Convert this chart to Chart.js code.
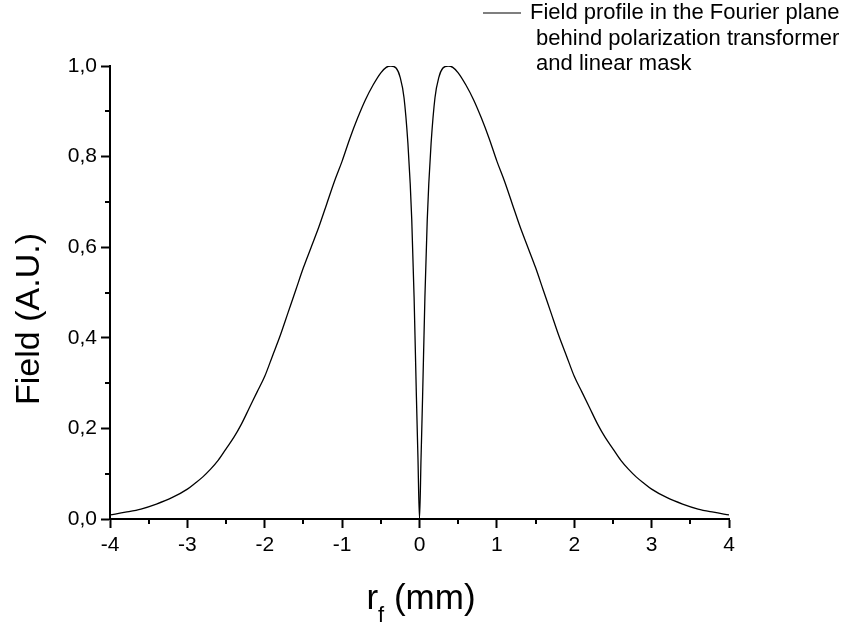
<!DOCTYPE html>
<html>
<head>
<meta charset="utf-8">
<script src="https://cdn.jsdelivr.net/npm/chart.js@4.4.1/dist/chart.umd.min.js"></script>
<style>
  html, body { margin: 0; padding: 0; background: #fff; }
  #wrap { width: 848px; height: 626px; }
</style>
</head>
<body>
<div id="wrap"><canvas id="fieldChart" width="848" height="626"></canvas></div>
<script>
// radial coordinate in the Fourier plane, mm
const rF = [-4, -3.8, -3.6, -3.4, -3.2, -3, -2.9, -2.8, -2.7, -2.6, -2.5, -2.4, -2.3, -2.2, -2.1,
    -2, -1.9, -1.8, -1.7, -1.6, -1.5, -1.4, -1.3, -1.2, -1.1, -1, -0.9, -0.8, -0.7, -0.6,
    -0.5, -0.43, -0.37, -0.3, -0.25, -0.2, -0.15, -0.12, -0.1, -0.07, -0.04, -0.02, 0,
    0.02, 0.04, 0.07, 0.1, 0.12, 0.15, 0.2, 0.25, 0.3, 0.37, 0.43, 0.5,
    0.6, 0.7, 0.8, 0.9, 1, 1.1, 1.2, 1.3, 1.4, 1.5, 1.6, 1.7, 1.8, 1.9,
    2, 2.1, 2.2, 2.3, 2.4, 2.5, 2.6, 2.7, 2.8, 2.9, 3, 3.2, 3.4, 3.6, 3.8, 4];
// field amplitude, arbitrary units
const field = [0.009, 0.015, 0.022, 0.033, 0.047, 0.066, 0.079, 0.093, 0.11, 0.13, 0.155, 0.18, 0.21, 0.245, 0.28,
    0.315, 0.36, 0.405, 0.455, 0.505, 0.555, 0.6, 0.645, 0.695, 0.745, 0.79, 0.84, 0.885, 0.925, 0.958,
    0.985, 0.997, 1.0, 0.995, 0.975, 0.93, 0.83, 0.74, 0.66, 0.49, 0.27, 0.135, 0,
    0.135, 0.27, 0.49, 0.66, 0.74, 0.83, 0.93, 0.975, 0.995, 1.0, 0.997, 0.985,
    0.958, 0.925, 0.885, 0.84, 0.79, 0.745, 0.695, 0.645, 0.6, 0.555, 0.505, 0.455, 0.405, 0.36,
    0.315, 0.28, 0.245, 0.21, 0.18, 0.155, 0.13, 0.11, 0.093, 0.079, 0.066, 0.047, 0.033, 0.022, 0.015, 0.009];

const xTicks = [-4, -3, -2, -1, 0, 1, 2, 3, 4];
const yTicks = [0, 0.2, 0.4, 0.6, 0.8, 1.0];
const xMinor = [-3.5, -2.5, -1.5, -0.5, 0.5, 1.5, 2.5, 3.5];
const yMinor = [0.1, 0.3, 0.5, 0.7, 0.9];

const legendLines = ['Field profile in the Fourier plane', ' behind polarization transformer', ' and linear mask'];

const FONT = "'Liberation Sans', Arial, Helvetica, sans-serif";

// minor ticks, axis titles and the legend box
const decorations = {
    id: 'decorations',
    afterDraw(chart) {
        const ctx = chart.ctx;
        const xs = chart.scales.x;
        const ys = chart.scales.y;
        const area = chart.chartArea;

        ctx.save();
        ctx.strokeStyle = '#000';
        ctx.lineWidth = 2;
        ctx.beginPath();
        xMinor.forEach(v => {
            const px = Math.round(xs.getPixelForValue(v));
            ctx.moveTo(px, area.bottom);
            ctx.lineTo(px, area.bottom + 5);
        });
        yMinor.forEach(v => {
            const py = Math.round(ys.getPixelForValue(v));
            ctx.moveTo(area.left, py);
            ctx.lineTo(area.left - 5, py);
        });
        ctx.stroke();

        ctx.fillStyle = '#000';

        // y title
        ctx.save();
        ctx.translate(30, 319);
        ctx.rotate(-Math.PI / 2);
        ctx.font = '34px ' + FONT;
        ctx.textAlign = 'center';
        ctx.textBaseline = 'middle';
        ctx.fillText('Field (A.U.)', 0, 0);
        ctx.restore();

        // x title with subscript
        ctx.textBaseline = 'alphabetic';
        ctx.textAlign = 'left';
        const big = '35px ' + FONT;
        const small = '22px ' + FONT;
        ctx.font = big;
        const wR = ctx.measureText('r').width;
        const wRest = ctx.measureText(' (mm)').width;
        ctx.font = small;
        const wF = ctx.measureText('f').width;
        let x0 = 421 - (wR + wF + wRest) / 2;
        const base = 609;
        ctx.font = big;
        ctx.fillText('r', x0, base);
        ctx.font = small;
        ctx.fillText('f', x0 + wR, base + 13);
        ctx.font = big;
        ctx.fillText(' (mm)', x0 + wR + wF, base);

        // legend
        ctx.lineWidth = 1.2;
        ctx.beginPath();
        ctx.moveTo(483, 13);
        ctx.lineTo(521, 13);
        ctx.stroke();
        ctx.font = '22px ' + FONT;
        ctx.textBaseline = 'middle';
        legendLines.forEach((t, i) => {
            ctx.fillText(t, 530, 13 + i * 25.5);
        });
        ctx.restore();
    }
};

const points = rF.map((r, i) => ({ x: r, y: field[i] }));

new Chart(document.getElementById('fieldChart'), {
    type: 'line',
    data: {
        datasets: [{
            label: 'Field profile in the Fourier plane behind polarization transformer and linear mask',
            data: points,
            borderColor: '#000',
            borderWidth: 1.3,
            pointRadius: 0,
            fill: false,
            cubicInterpolationMode: 'monotone'
        }]
    },
    options: {
        responsive: false,
        animation: false,
        layout: { padding: { left: 0, top: 66, right: 119, bottom: 0 } },
        plugins: {
            legend: { display: false },
            tooltip: { enabled: false }
        },
        scales: {
            x: {
                type: 'linear',
                min: -4,
                max: 4,
                afterFit(scale) { scale.height = 107; },
                afterBuildTicks(scale) { scale.ticks = xTicks.map(v => ({ value: v })); },
                border: { color: '#000', width: 2 },
                grid: { drawOnChartArea: false, drawTicks: true, tickLength: 9, tickWidth: 2, color: '#000' },
                ticks: {
                    color: '#000',
                    padding: 5,
                    font: { family: FONT, size: 21 },
                    maxRotation: 0,
                    callback: v => String(v)
                }
            },
            y: {
                min: 0,
                max: 1,
                afterFit(scale) { scale.width = 110; },
                afterBuildTicks(scale) { scale.ticks = yTicks.map(v => ({ value: v })); },
                border: { color: '#000', width: 2 },
                grid: { drawOnChartArea: false, drawTicks: true, tickLength: 9, tickWidth: 2, color: '#000' },
                ticks: {
                    color: '#000',
                    padding: 4,
                    font: { family: FONT, size: 21 },
                    callback: v => v.toFixed(1).replace('.', ',')
                }
            }
        }
    },
    plugins: [decorations]
});
</script>
</body>
</html>
